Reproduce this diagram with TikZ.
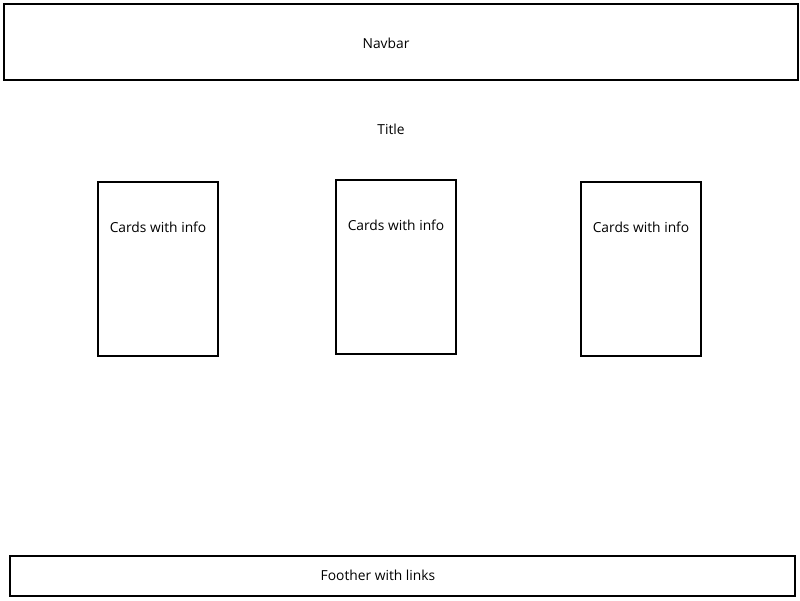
\documentclass[tikz,border=0pt]{standalone}
\usepackage{fontspec}
\setmainfont{Open Sans}
\usetikzlibrary{positioning}
\begin{document}
\begin{tikzpicture}[x=1pt,y=-1pt]
\tikzstyle{box}=[draw=black,line width=2pt,rectangle,inner sep=0pt]
\tikzstyle{card}=[box,minimum width=120pt,minimum height=174pt]
\tikzstyle{txt}=[font=\fontsize{13.8}{15}\selectfont,inner sep=0pt]
\useasboundingbox (0,0) rectangle (800,600);
\node [box,minimum width=794pt,minimum height=76pt] at (401,42) (navbar) {};
\node [txt] at (386,43) (navtext) {Navbar};
\node [txt] at (391,129) (title) {Title};
\node [card] at (158,269) (c1) {};
\node [card] at (396,267) (c2) {};
\node [card] at (641,269) (c3) {};
\node [txt,below=41pt of c1.north] (t1) {Cards with info};
\node [txt,below=41pt of c2.north] (t2) {Cards with info};
\node [txt,below=41pt of c3.north] (t3) {Cards with info};
\node [box,minimum width=785pt,minimum height=40pt] at (402.5,576) (footer) {};
\node [txt] at (378,575) (foottext) {Foother with links};
\end{tikzpicture}
\end{document}
